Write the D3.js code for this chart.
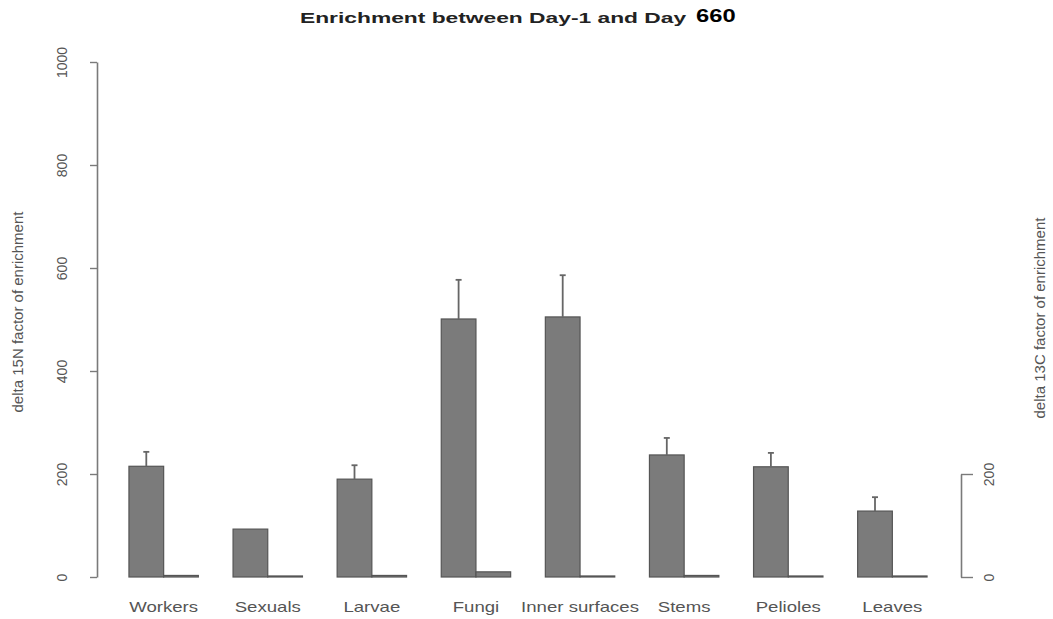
<!DOCTYPE html>
<html>
<head>
<meta charset="utf-8">
<script src="https://cdn.jsdelivr.net/npm/d3@7"></script>
<style>
  body { margin: 0; background: #fff; }
  text { font-family: "Liberation Sans", Arial, sans-serif; }
</style>
</head>
<body>
<script>
// ---- data ----
var categories = ["Workers", "Sexuals", "Larvae", "Fungi", "Inner surfaces", "Stems", "Pelioles", "Leaves"];
var n15 = [215, 93, 190, 501, 505, 237, 214, 128];
var n15err = [28, 0, 27, 76, 81, 33, 27, 27];
var c13 = [3, 2, 3, 10, 2, 3, 2, 2];
var leftTicks = [0, 200, 400, 600, 800, 1000];
var rightTicks = [0, 200];
var titleMain = "Enrichment between Day-1 and Day";
var titleDay = "660";
var leftLabel = "delta 15N factor of enrichment";
var rightLabel = "delta 13C factor of enrichment";

// ---- layout ----
var width_outer = 1053, height_outer = 619;
var barFill = "#7b7b7b", barStroke = "#555";
var axisColor = "#7a7a7a", textColor = "#555";
var stretch = 1.33;   // picture is stretched sideways, so is the text

var svg = d3.select("body").append("svg")
  .attr("width", width_outer)
  .attr("height", height_outer);

var y = d3.scaleLinear().domain([0, 1000]).range([577, 62]);
var yR = d3.scaleLinear().domain([0, 200]).range([y(0), y(200)]);

var x0 = d3.scaleBand()
  .domain(categories)
  .range([111.6, 944.4])
  .paddingInner(1 / 3)
  .paddingOuter(1 / 6);
var x1 = d3.scaleBand()
  .domain(["n15", "c13"])
  .range([0, x0.bandwidth()]);

// bars
var groups = svg.append("g").selectAll("g")
  .data(categories)
  .enter().append("g")
    .attr("transform", function(d) { return "translate(" + x0(d) + ",0)"; });

groups.append("rect")
  .attr("x", x1("n15"))
  .attr("width", x1.bandwidth())
  .attr("y", function(d, i) { return y(n15[i]); })
  .attr("height", function(d, i) { return y(0) - y(n15[i]); })
  .attr("fill", barFill)
  .attr("stroke", barStroke)
  .attr("stroke-width", 1.2);

groups.append("rect")
  .attr("x", x1("c13"))
  .attr("width", x1.bandwidth())
  .attr("y", function(d, i) { return y(c13[i]); })
  .attr("height", function(d, i) { return y(0) - y(c13[i]); })
  .attr("fill", barFill)
  .attr("stroke", barStroke)
  .attr("stroke-width", 1.2);

// error bars (upper only)
var err = groups.filter(function(d, i) { return n15err[i] > 0; });
var cx = x1("n15") + x1.bandwidth() / 2;
err.append("line")
  .attr("x1", cx).attr("x2", cx)
  .attr("y1", function(d) { var i = categories.indexOf(d); return y(n15[i]); })
  .attr("y2", function(d) { var i = categories.indexOf(d); return y(n15[i] + n15err[i]); })
  .attr("stroke", "#666").attr("stroke-width", 1.8);
err.append("line")
  .attr("x1", cx - 3).attr("x2", cx + 3)
  .attr("y1", function(d) { var i = categories.indexOf(d); return y(n15[i] + n15err[i]); })
  .attr("y2", function(d) { var i = categories.indexOf(d); return y(n15[i] + n15err[i]); })
  .attr("stroke", "#666").attr("stroke-width", 1.8);

// category labels
svg.append("g").selectAll("text")
  .data(categories)
  .enter().append("text")
    .attr("transform", function(d) {
      return "translate(" + (x0(d) + x0.bandwidth() / 2) + ",612) scale(" + stretch + ",1)";
    })
    .attr("text-anchor", "middle")
    .attr("font-size", 14)
    .attr("fill", textColor)
    .text(function(d) { return d; });

// left axis
var leftAxis = svg.append("g")
  .attr("transform", "translate(97,0)")
  .call(d3.axisLeft(y).tickValues(leftTicks).tickSize(7).tickSizeOuter(0).tickFormat(d3.format("d")));
leftAxis.select(".domain").attr("stroke", axisColor).attr("stroke-width", 1.6);
leftAxis.selectAll(".tick line").attr("stroke", axisColor).attr("stroke-width", 1.4);
leftAxis.selectAll(".tick text")
  .attr("x", 0).attr("y", 0).attr("dy", "0.35em")
  .attr("transform", "translate(-35,0) rotate(-90)")
  .attr("text-anchor", "middle")
  .attr("font-size", 14)
  .attr("fill", textColor);

// right axis
var rightAxis = svg.append("g")
  .attr("transform", "translate(961,0)")
  .call(d3.axisRight(yR).tickValues(rightTicks).tickSize(12).tickSizeOuter(0).tickFormat(d3.format("d")));
rightAxis.select(".domain").attr("stroke", axisColor).attr("stroke-width", 1.6);
rightAxis.selectAll(".tick line").attr("stroke", axisColor).attr("stroke-width", 1.4);
rightAxis.selectAll(".tick text")
  .attr("x", 0).attr("y", 0).attr("dy", "0.35em")
  .attr("transform", "translate(28,0) rotate(-90)")
  .attr("text-anchor", "middle")
  .attr("font-size", 14)
  .attr("fill", textColor);

// axis titles
svg.append("text")
  .attr("transform", "translate(18,312) rotate(-90)")
  .attr("dy", "0.35em")
  .attr("text-anchor", "middle")
  .attr("font-size", 15)
  .attr("fill", textColor)
  .text(leftLabel);

svg.append("text")
  .attr("transform", "translate(1040,318) rotate(-90)")
  .attr("dy", "0.35em")
  .attr("text-anchor", "middle")
  .attr("font-size", 15)
  .attr("fill", textColor)
  .text(rightLabel);

// title
svg.append("text")
  .attr("transform", "translate(300,23) scale(1.52,1)")
  .attr("font-size", 15)
  .attr("font-weight", "bold")
  .attr("fill", "#222")
  .text(titleMain);

svg.append("text")
  .attr("transform", "translate(696,22) scale(1.25,1)")
  .attr("font-size", 19)
  .attr("font-weight", "bold")
  .attr("fill", "#000")
  .text(titleDay);
</script>
</body>
</html>
